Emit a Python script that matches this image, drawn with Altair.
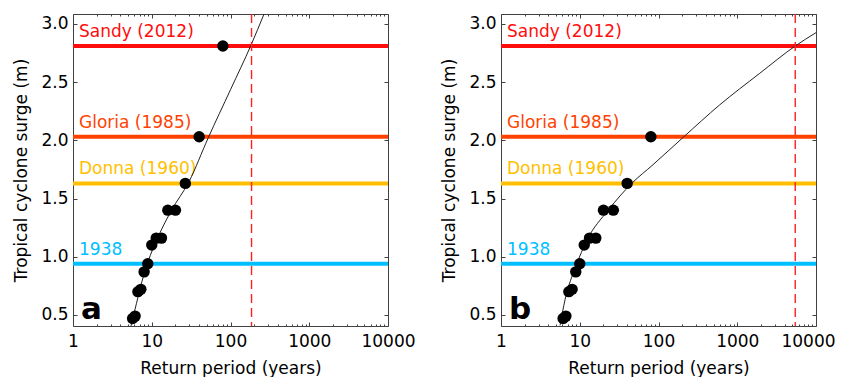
import altair as alt
import pandas as pd

# reference storms (horizontal lines)
storm_names = ["Sandy (2012)", "Gloria (1985)", "Donna (1960)", "1938"]
storm_surge = [2.81, 2.03, 1.63, 0.94]
storm_colors = ["#ff0d0d", "#ff4200", "#ffbf00", "#00bfff"]

# panel a: observed surges and empirical return periods
a_period = [80, 40, 26.7, 20, 16, 13.3, 11.4, 10, 8.9, 8, 7.27, 6.67, 6.15, 5.71]
a_surge = [2.81, 2.03, 1.63, 1.40, 1.40, 1.16, 1.16, 1.10, 0.94, 0.87, 0.72, 0.70, 0.49, 0.47]
# panel b: same without Sandy
b_period = [80, 40, 26.7, 20, 16, 13.3, 11.4, 10, 8.9, 8, 7.27, 6.67, 6.15]
b_surge = [2.03, 1.63, 1.40, 1.40, 1.16, 1.16, 1.10, 0.94, 0.87, 0.72, 0.70, 0.49, 0.47]

# fitted curves
a_curve_period = [5.45, 6.4, 7.6, 9.0, 11.5, 17.5, 30, 52, 100, 182, 267]
a_curve_surge = [0.405, 0.60, 0.80, 0.96, 1.14, 1.39, 1.65, 2.02, 2.435, 2.817, 3.086]
b_curve_period = [5.62, 6.5, 8.9, 12.3, 23, 45.7, 85, 207, 600, 1900, 5450, 10000]
b_curve_surge = [0.41, 0.63, 0.915, 1.14, 1.40, 1.63, 1.79, 2.027, 2.305, 2.572, 2.81, 2.925]

# Sandy return period (dashed line)
a_sandy_period = 185
b_sandy_period = 5450

x_major = [1, 10, 100, 1000, 10000]
x_minor = [2, 3, 4, 5, 6, 7, 8, 9, 20, 30, 40, 50, 60, 70, 80, 90,
           200, 300, 400, 500, 600, 700, 800, 900,
           2000, 3000, 4000, 5000, 6000, 7000, 8000, 9000]
y_ticks = [0.5, 1.0, 1.5, 2.0, 2.5, 3.0]

FONT = "DejaVu Sans"
TICK = "#404040"

storms = pd.DataFrame({"name": storm_names, "surge": storm_surge, "color": storm_colors})


def panel(period, surge, cper, csurge, sandy, letter, last_shift):
    xs = alt.Scale(type="log", domain=[1, 10000], nice=False)
    ys = alt.Scale(domain=[0.405, 3.085], nice=False, zero=False)
    common = dict(domain=False, grid=False, tickColor=TICK, labelFont=FONT,
                  labelFontSize=17, labelColor="black", titleFont=FONT,
                  titleFontSize=17, titleFontWeight="normal", titleColor="black")

    x_bot = alt.Axis(orient="bottom", values=x_major, format="d", tickSize=4, offset=-4,
                     labelPadding=7, labelFlush=False, labelOverlap=False,
                     labelOffset={"condition": {"test": "datum.value >= 10000",
                                                "value": last_shift}, "value": 0},
                     title="Return period (years)", titlePadding=11, **common)
    x_bot_minor = alt.Axis(orient="bottom", values=x_minor, labels=False, tickSize=2,
                           offset=-2, title=None, **common)
    x_top = alt.Axis(orient="top", values=x_major, labels=False, tickSize=4, offset=-4,
                     title=None, **common)
    x_top_minor = alt.Axis(orient="top", values=x_minor, labels=False, tickSize=2,
                           offset=-2, title=None, **common)
    y_left = alt.Axis(orient="left", values=y_ticks, format=".1f", tickSize=4, offset=-4,
                      labelPadding=5, labelOverlap=False, labelFlush=False,
                      title="Tropical cyclone surge (m)", titlePadding=10, **common)
    y_right = alt.Axis(orient="right", values=y_ticks, labels=False, tickSize=4, offset=-4,
                       title=None, **common)

    lines = alt.Chart(storms).mark_rule(strokeWidth=4).encode(
        y=alt.Y("surge:Q", scale=ys, axis=y_left),
        color=alt.Color("color:N", scale=None),
    )
    # hidden layer carrying the bottom x axis
    xaxis_layer = alt.Chart(pd.DataFrame({"p": [1, 10000]})).mark_point(opacity=0).encode(
        x=alt.X("p:Q", scale=xs, axis=x_bot),
    )
    labels = alt.Chart(storms).mark_text(align="left", baseline="alphabetic", dy=-9,
                                         font=FONT, fontSize=17).encode(
        x=alt.value(6),
        y=alt.Y("surge:Q", scale=ys, axis=None),
        text="name:N",
        color=alt.Color("color:N", scale=None),
    )
    cdf = pd.DataFrame({"period": cper, "surge": csurge})
    curve = alt.Chart(cdf).mark_line(color="#222222", strokeWidth=1, interpolate="monotone",
                                     clip=True).encode(
        x=alt.X("period:Q", scale=xs, axis=x_top),
        y=alt.Y("surge:Q", scale=ys, axis=y_right),
    )
    ddf = pd.DataFrame({"period": [sandy]})
    dashed = alt.Chart(ddf).mark_rule(color="#ff2020", strokeWidth=1.4,
                                      strokeDash=[9, 5]).encode(
        x=alt.X("period:Q", scale=xs, axis=x_top_minor),
    )
    pdf = pd.DataFrame({"period": period, "surge": surge})
    pts = alt.Chart(pdf).mark_circle(size=130, color="black", opacity=1).encode(
        x=alt.X("period:Q", scale=xs, axis=x_bot_minor),
        y=alt.Y("surge:Q", scale=ys, axis=None),
    )
    let = alt.Chart(pd.DataFrame({"t": [letter]})).mark_text(
        align="left", baseline="alphabetic", font=FONT, fontSize=31, fontWeight="bold",
        color="black").encode(x=alt.value(8), y=alt.value(305), text="t:N")

    return alt.layer(lines, xaxis_layer, labels, curve, dashed, pts, let).resolve_axis(
        x="independent", y="independent").properties(width=315, height=312)


pa = panel(a_period, a_surge, a_curve_period, a_curve_surge, a_sandy_period, "a", 0)
pb = panel(b_period, b_surge, b_curve_period, b_curve_surge, b_sandy_period, "b", -8)

chart = alt.hconcat(pa, pb, spacing=113, bounds="flush").properties(
    autosize=alt.AutoSizeParams(type="none"),
    padding={"left": 65, "top": 6, "right": 764, "bottom": 380},
).configure_view(stroke=TICK, strokeWidth=1)

chart.save("out.html", embed_options={"renderer": "svg", "actions": False})
